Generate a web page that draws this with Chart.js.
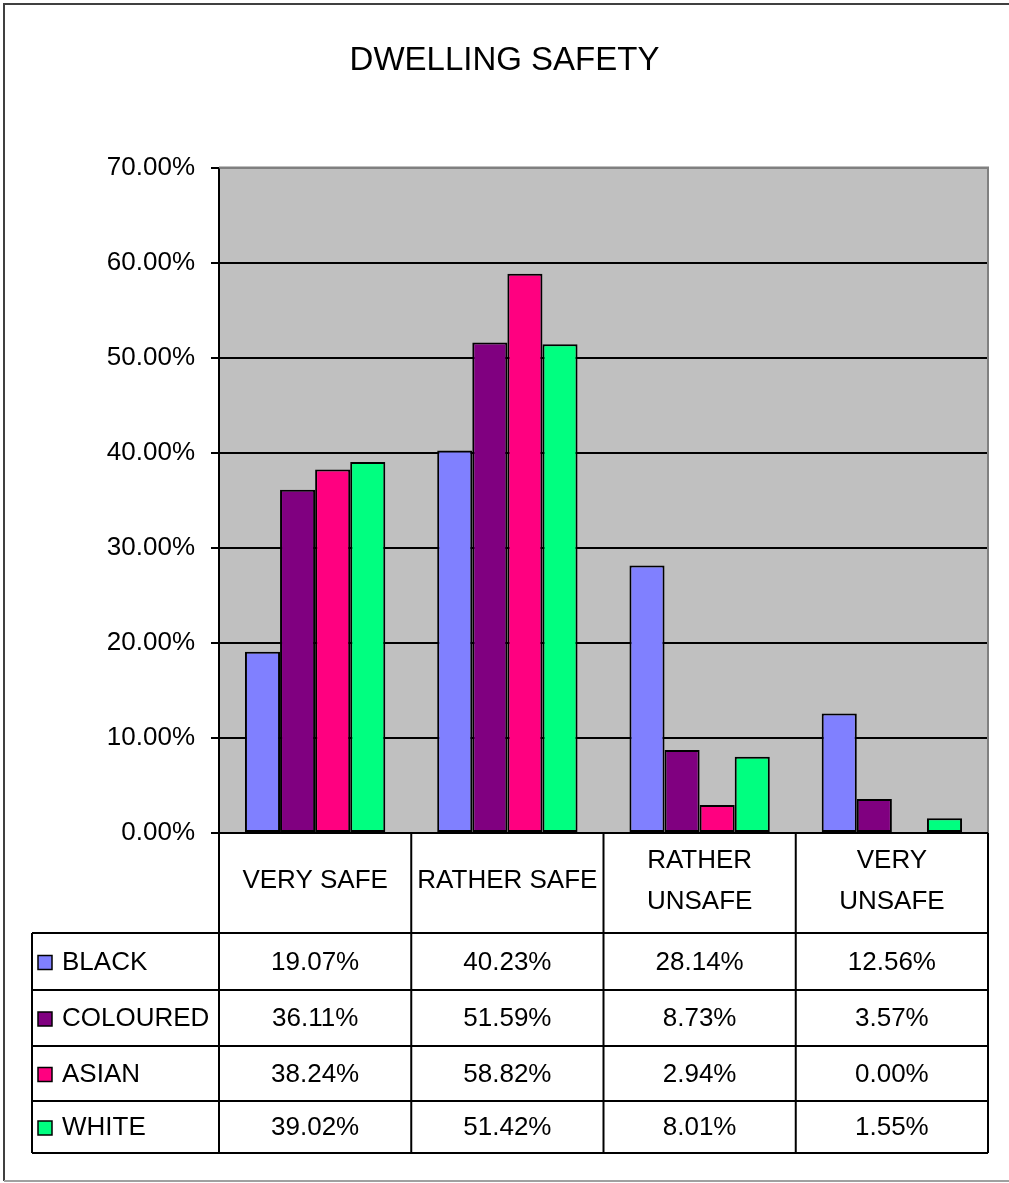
<!DOCTYPE html>
<html><head><meta charset="utf-8">
<script src="https://cdn.jsdelivr.net/npm/chart.js@4/dist/chart.umd.min.js"></script>
<style>html,body{margin:0;padding:0;background:#fff}#wrap{width:1009px;height:1183px}</style>
</head><body><div id="wrap"><canvas id="c" width="1009" height="1183"></canvas></div>
<script>
const chartTitle = 'DWELLING SAFETY';
const categories = [['VERY SAFE'], ['RATHER SAFE'], ['RATHER', 'UNSAFE'], ['VERY', 'UNSAFE']];
const seriesNames = ['BLACK', 'COLOURED', 'ASIAN', 'WHITE'];
const blackValues = [19.07, 40.23, 28.14, 12.56];
const colouredValues = [36.11, 51.59, 8.73, 3.57];
const asianValues = [38.24, 58.82, 2.94, 0.00];
const whiteValues = [39.02, 51.42, 8.01, 1.55];
const yTicks = [0, 10, 20, 30, 40, 50, 60, 70];

const seriesValues = [blackValues, colouredValues, asianValues, whiteValues];
const seriesColors = ['#8080FF', '#800080', '#FF0080', '#00FF80'];
const FONT = '"Liberation Sans", Arial, sans-serif';
const fmt = v => v.toFixed(2) + '%';

const plotBg = {
  id: 'plotBg',
  beforeDraw(chart) {
    const {ctx, chartArea: a} = chart;
    ctx.save();
    ctx.fillStyle = '#C0C0C0';
    ctx.fillRect(a.left, a.top, a.right - a.left, a.bottom - a.top);
    ctx.restore();
  }
};

const tablePlugin = {
  id: 'tablePlugin',
  afterDraw(chart) {
    const {ctx, chartArea: a} = chart;
    const xs = chart.scales.x;
    const n = categories.length;
    const step = xs.getPixelForValue(1) - xs.getPixelForValue(0);
    const bounds = [];
    for (let i = 0; i < n; i++) bounds.push(xs.getPixelForValue(i) - step / 2);
    bounds.push(xs.getPixelForValue(n - 1) + step / 2);
    const tableLeft = 32;
    const rows = [a.bottom + 100, 990, 1046, 1101, 1153];
    ctx.save();
    ctx.strokeStyle = '#808080';
    ctx.lineWidth = 2;
    ctx.beginPath();
    ctx.moveTo(a.left, a.top); ctx.lineTo(a.right, a.top); ctx.lineTo(a.right, a.bottom);
    ctx.stroke();
    ctx.strokeStyle = '#000';
    ctx.lineWidth = 2;
    ctx.beginPath();
    ctx.moveTo(a.left, a.bottom); ctx.lineTo(bounds[n], a.bottom);
    for (let r = 0; r < rows.length; r++) {
      ctx.moveTo(tableLeft, rows[r]); ctx.lineTo(bounds[n], rows[r]);
    }
    for (let i = 0; i <= n; i++) {
      ctx.moveTo(bounds[i], a.bottom); ctx.lineTo(bounds[i], rows[rows.length - 1]);
    }
    ctx.moveTo(tableLeft, rows[0]); ctx.lineTo(tableLeft, rows[rows.length - 1]);
    ctx.stroke();
    ctx.fillStyle = '#000';
    ctx.font = '26px ' + FONT;
    ctx.textAlign = 'center';
    ctx.textBaseline = 'middle';
    const hc = (a.bottom + rows[0]) / 2 - 2;
    for (let i = 0; i < n; i++) {
      const lines = categories[i];
      const cx = xs.getPixelForValue(i);
      lines.forEach((t, k) => {
        ctx.fillText(t, cx, hc + (k - (lines.length - 1) / 2) * 41);
      });
    }
    for (let s = 0; s < seriesNames.length; s++) {
      const cy = (rows[s] + rows[s + 1]) / 2 + 1;
      ctx.fillStyle = seriesColors[s];
      ctx.fillRect(38, cy - 7, 14, 14);
      ctx.lineWidth = 1.5;
      ctx.strokeStyle = '#000';
      ctx.strokeRect(38, cy - 7, 14, 14);
      ctx.fillStyle = '#000';
      ctx.textAlign = 'left';
      ctx.fillText(seriesNames[s], 62, cy);
      ctx.textAlign = 'center';
      for (let i = 0; i < n; i++) {
        ctx.fillText(fmt(seriesValues[s][i]), xs.getPixelForValue(i), cy);
      }
    }
    ctx.lineWidth = 2;
    ctx.strokeStyle = '#404040';
    ctx.beginPath();
    ctx.moveTo(4, 1181); ctx.lineTo(4, 4); ctx.lineTo(1009, 4);
    ctx.stroke();
    ctx.strokeStyle = '#A0A0A0';
    ctx.beginPath();
    ctx.moveTo(4, 1181); ctx.lineTo(1009, 1181);
    ctx.stroke();
    ctx.restore();
  }
};

new Chart(document.getElementById('c'), {
  type: 'bar',
  data: {
    labels: categories.map(c => c.join(' ')),
    datasets: seriesNames.map((name, i) => ({
      label: name,
      data: seriesValues[i],
      backgroundColor: seriesColors[i],
      borderColor: '#000',
      borderWidth: 2,
      borderSkipped: false,
      categoryPercentage: 0.73,
      barPercentage: 1.0
    }))
  },
  options: {
    responsive: false,
    animation: false,
    devicePixelRatio: 1,
    layout: {padding: {left: 0, right: 0, top: 0, bottom: 350}},
    plugins: {
      legend: {display: false},
      tooltip: {enabled: false},
      title: {
        display: true,
        text: chartTitle,
        color: '#000',
        font: {family: FONT, size: 33, weight: 'normal'},
        padding: {top: 41, bottom: 87}
      }
    },
    scales: {
      x: {display: false, offset: true},
      y: {
        min: 0, max: 70,
        afterFit(s) { s.width = 219; },
        afterBuildTicks(s) { s.ticks = yTicks.map(v => ({value: v})); },
        border: {display: true, color: '#000', width: 2},
        grid: {
          color: c => (c.tick && c.tick.value === 70) ? '#808080' : '#000',
          lineWidth: 2,
          tickLength: 8,
          tickColor: '#000',
          drawTicks: true
        },
        ticks: {
          color: '#000',
          font: {family: FONT, size: 26},
          padding: 16,
          callback: v => fmt(v)
        }
      },
      yRight: {
        position: 'right',
        display: true,
        min: 0, max: 70,
        afterFit(s) { s.width = 21; },
        grid: {display: false, drawTicks: false},
        border: {display: false},
        ticks: {display: false}
      }
    }
  },
  plugins: [plotBg, tablePlugin]
});
</script></body></html>
